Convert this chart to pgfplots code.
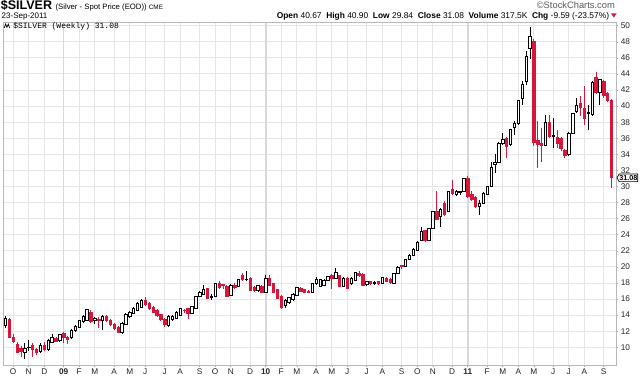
\documentclass[border=0pt]{standalone}
\usepackage{pgfplots}
\usepackage{pgfplotstable}
\pgfplotsset{compat=1.18}
\usepackage{fontspec}
\setmainfont{Liberation Sans}
\setmonofont{Liberation Mono}
\usetikzlibrary{shapes.symbols}
\definecolor{cred}{RGB}{214,22,58}
\definecolor{gridc}{RGB}{230,230,230}
\definecolor{yearc}{RGB}{216,216,216}
\newcommand\yu{6.03}

\pgfdeclareplotmark{candle}{%
  \ifdim\cdC pt<0pt
    \pgfsetstrokecolor{cred}\pgfsetfillcolor{cred}%
  \else
    \pgfsetstrokecolor{black}\pgfsetfillcolor{white}%
  \fi
  \pgfsetlinewidth{0.6pt}%
  \pgfpathmoveto{\pgfpoint{0pt}{\cdL*\yu pt}}%
  \pgfpathlineto{\pgfpoint{0pt}{\cdH*\yu pt}}%
  \pgfusepath{stroke}%
  \pgfsetlinewidth{0.5pt}%
  \pgfpathrectangle{\pgfpoint{-0.9pt}{0pt}}{\pgfpoint{1.8pt}{\cdC*\yu pt}}%
  \pgfusepath{fill,stroke}%
}

\pgfplotstableread{
i O H L C
0 12.7 13.9 12.4 13.6
1 13.5 13.6 11.1 11.3
2 11.3 11.6 10.5 10.7
3 10.4 10.6 9.25 9.4
4 9.9 10.2 8.8 9.5
5 9.4 10.5 8.5 9.9
6 9.95 10.9 9.6 10.05
7 10.2 10.5 8.85 9.7
8 9.75 9.9 9.1 9.4
9 9.5 10.5 9.3 10.3
10 10.3 10.6 9.5 9.7
11 9.7 11.0 9.6 10.9
12 10.6 11.65 10.5 11.3
13 11.1 11.3 10.7 10.8
14 10.9 11.7 10.6 11.65
15 11.8 11.9 10.5 11.3
16 11.3 11.4 10.4 11.0
17 11.3 12.3 11.0 12.15
18 12.1 12.8 11.9 12.65
19 12.5 13.4 12.4 13.3
20 13.2 14.0 13.0 13.9
21 13.4 14.8 13.3 14.7
22 14.4 14.6 13.0 13.2
23 13.3 13.8 12.9 13.6
24 13.5 13.8 12.4 13.4
25 13.3 14.0 12.2 13.9
26 13.9 14.0 13.2 13.3
27 13.4 13.5 12.7 12.9
28 12.9 13.0 12.2 12.35
29 12.5 12.6 11.8 11.85
30 11.85 13.1 11.7 13.0
31 12.9 14.3 12.8 14.1
32 13.8 14.5 13.6 14.4
33 14.2 15.0 14.1 14.85
34 14.6 15.6 14.5 15.5
35 15.0 16.0 14.9 15.8
36 15.8 16.3 15.2 15.4
37 15.5 15.6 14.7 14.85
38 15.0 15.1 14.3 14.4
39 14.6 14.8 13.8 14.0
40 14.1 14.2 13.3 13.45
41 13.5 13.6 12.5 12.8
42 12.7 14.0 12.5 13.9
43 13.5 14.0 13.3 13.8
44 13.6 14.5 13.5 14.4
45 14.0 14.9 13.9 14.8
46 14.6 14.8 14.3 14.55
47 14.8 14.9 13.5 14.2
48 14.2 15.1 14.1 15.05
49 14.85 16.4 14.8 16.3
50 16.3 17.0 16.2 16.9
51 16.6 17.75 16.5 17.2
52 17.3 17.4 16.0 16.1
53 16.2 16.6 15.9 16.35
54 16.3 18.0 16.2 17.95
55 17.95 18.2 17.3 17.45
56 17.8 17.9 17.3 17.7
57 17.6 17.8 16.3 16.4
58 16.5 17.9 16.4 17.75
59 17.75 18.0 17.2 17.45
60 17.6 18.5 17.5 18.45
61 19.0 19.2 18.3 18.45
62 18.4 19.5 18.2 18.5
63 18.6 18.7 17.0 17.1
64 17.5 17.6 16.9 17.1
65 17.1 17.8 16.9 17.75
66 17.6 17.7 16.7 16.8
67 16.9 19.0 16.8 18.6
68 18.6 19.0 17.7 17.75
69 17.95 18.0 16.7 16.8
70 17.2 17.3 16.0 16.1
71 16.4 16.5 14.75 14.97
72 15.26 16.0 14.9 15.8
73 15.55 16.3 15.4 16.2
74 16.0 16.8 15.8 16.6
75 16.5 17.5 16.4 17.45
76 17.3 17.5 16.9 17.0
77 17.2 17.3 16.8 16.9
78 17.0 17.1 16.7 16.85
79 16.9 18.0 16.8 17.95
80 17.95 18.7 17.8 18.5
81 17.6 18.5 17.5 18.4
82 17.7 18.5 17.6 18.35
83 18.3 18.9 18.2 18.8
84 19.0 19.1 17.2 18.6
85 18.6 19.9 18.5 19.3
86 18.9 19.0 17.5 17.6
87 17.6 18.7 17.5 18.6
88 18.6 18.7 17.2 17.3
89 17.9 18.7 17.8 18.6
90 18.3 19.4 18.2 19.3
91 19.2 19.5 18.8 18.9
92 19.1 19.2 17.6 17.75
93 17.8 18.3 17.6 18.2
94 18.2 18.3 17.8 17.9
95 17.95 18.2 17.8 18.05
96 18.2 18.3 17.7 17.9
97 18.0 18.8 17.9 18.7
98 18.6 18.7 18.1 18.2
99 18.5 18.6 17.9 18.1
100 17.96 19.3 17.9 19.2
101 19.2 20.1 19.1 20.0
102 20.15 20.3 19.8 20.05
103 20.1 21.0 20.0 20.9
104 20.9 21.6 20.8 21.5
105 21.5 22.3 21.4 22.2
106 22.1 23.2 22.0 23.1
107 23.35 25.0 23.2 24.4
108 24.5 24.6 23.1 23.3
109 23.35 24.9 23.2 24.8
110 24.8 27.0 24.7 26.9
111 26.9 29.4 25.8 25.9
112 26.3 27.3 25.0 27.2
113 27.9 28.2 26.3 26.5
114 26.9 29.5 26.8 29.4
115 29.6 30.8 29.0 29.15
116 29.0 29.6 28.8 29.4
117 29.3 29.5 28.9 29.35
118 29.4 31.1 29.3 31.0
119 31.0 31.3 28.6 28.8
120 29.0 29.4 28.2 28.4
121 28.6 28.8 27.3 27.5
122 27.5 28.3 26.4 27.9
123 27.95 29.3 27.8 29.2
124 29.07 30.1 28.9 30.0
125 30.0 33.0 29.9 32.4
126 32.7 34.0 31.7 33.0
127 33.0 35.5 32.9 35.4
128 35.4 36.7 35.2 35.9
129 36.0 36.2 33.5 35.0
130 35.3 37.2 35.1 37.05
131 37.3 38.1 36.4 37.8
132 37.8 40.8 37.6 40.7
133 41.0 43.1 40.2 42.7
134 43.1 46.8 42.6 46.2
135 47.2 49.9 45.9 48.7
136 48.1 48.4 35.0 35.5
137 35.7 38.1 32.3 35.2
138 35.4 37.3 33.0 35.1
139 35.1 38.9 35.0 38.0
140 38.0 38.85 36.0 36.2
141 36.3 38.5 34.8 36.4
142 36.1 37.0 34.8 35.4
143 36.0 36.2 34.4 34.8
144 34.5 34.7 33.5 33.9
145 33.95 36.8 33.8 36.65
146 36.65 39.2 36.5 39.1
147 39.4 41.0 39.2 40.1
148 40.4 41.2 38.8 39.85
149 39.75 42.5 37.6 38.5
150 39.1 40.2 37.0 39.2
151 39.0 43.1 38.8 42.95
152 43.55 44.3 41.5 41.75
153 41.75 43.4 40.2 43.3
154 43.1 43.3 41.0 41.4
155 41.6 41.8 40.5 40.67
156 40.67 40.90 29.84 31.08
}\silver

\begin{document}
\begin{tikzpicture}
\path[use as bounding box] (0,0) rectangle (480pt,282pt);
\begin{axis}[
  at={(2.475pt,8.25pt)}, anchor=south west,
  x=2.914pt, y=6.03pt,
  xmin=-0.54, xmax=157.2, ymin=7.8, ymax=50.37,
  clip=false,
  axis line style={gray!55, line width=0.5pt},
  ytick={10,12,...,50},
  yticklabel pos=right, ytick pos=right,
  xtick pos=bottom,
  xtick={2,6,10,15,19,23,28,32,36,41,45,50,54,58,63,67,71,75,80,84,88,93,97,102,106,110,115,119,124,128,132,136,141,145,149,154},
  xticklabels={O,N,D,\textbf{09},F,M,A,M,J,J,A,S,O,N,D,\textbf{10},F,M,A,M,J,J,A,S,O,N,D,\textbf{11},F,M,A,M,J,J,A,S},
  extra x ticks={15,67,119}, extra x tick labels={},
  extra x tick style={grid style={yearc, line width=1.2pt}},
  tick align=outside,
  major tick length=1.2pt,
  tick style={gray!70, line width=0.4pt},
  grid=major,
  grid style={gridc, line width=0.7pt},
  /pgf/number format/assume math mode=true,
  ticklabel style={font=\fontsize{6.2}{7}\selectfont, text=black!85},
  yticklabel style={xshift=-1.2pt},
  xticklabel style={yshift=2.2pt},
]
\addplot[only marks, mark=candle,
  visualization depends on={\thisrow{H}-\thisrow{O} \as \cdH},
  visualization depends on={\thisrow{L}-\thisrow{O} \as \cdL},
  visualization depends on={\thisrow{C}-\thisrow{O} \as \cdC},
] table[x=i, y=O] {\silver};
\node[signal, signal to=west, signal pointer angle=120, draw=black, fill=white, line width=0.5pt,
  inner xsep=0.2pt, inner ysep=0.9pt, anchor=west, xshift=0.3pt,
  font=\fontsize{5.4}{6}\selectfont\bfseries] at (axis cs:157.2,31.08) {31.08};
\end{axis}
% header texts
\node[anchor=base west, inner sep=0] at (0.4pt,274.5pt)
  {\fontsize{9.4}{10}\selectfont\bfseries \$SILVER\ \fontsize{5.8}{7}\selectfont\mdseries (Silver - Spot Price (EOD))\ \fontsize{4.8}{6}\selectfont CME};
\node[anchor=base west, inner sep=0] at (1.1pt,268.3pt)
  {\fontsize{6}{7}\selectfont 23-Sep-2011};
\node[anchor=base east, inner sep=0, text=black!65] at (461.3pt,275.5pt)
  {\fontsize{7}{8}\selectfont \textcopyright StockCharts.com};
\node[anchor=base east, inner sep=0] at (457pt,268.3pt)
  {\fontsize{6.3}{7}\selectfont \textbf{Open} 40.67\ \ \textbf{High} 40.90\ \ \textbf{Low} 29.84\ \ \textbf{Close} 31.08\ \ \textbf{Volume} 317.5K\ \ \textbf{Chg} -9.59 (-23.57\%)};
\fill[cred] (458.3pt,272pt) -- (462.5pt,272pt) -- (460.4pt,268.8pt) -- cycle;
\node[anchor=base west, inner sep=0] at (9.75pt,260.6pt)
  {\fontsize{6}{7}\selectfont\ttfamily \$SILVER (Weekly) 31.08};
\draw[black, line width=0.5pt] (3.2pt,261pt) -- (4.2pt,264pt) -- (5.2pt,261.5pt) -- (6.2pt,264pt) -- (7.2pt,261pt);
\end{tikzpicture}
\end{document}
